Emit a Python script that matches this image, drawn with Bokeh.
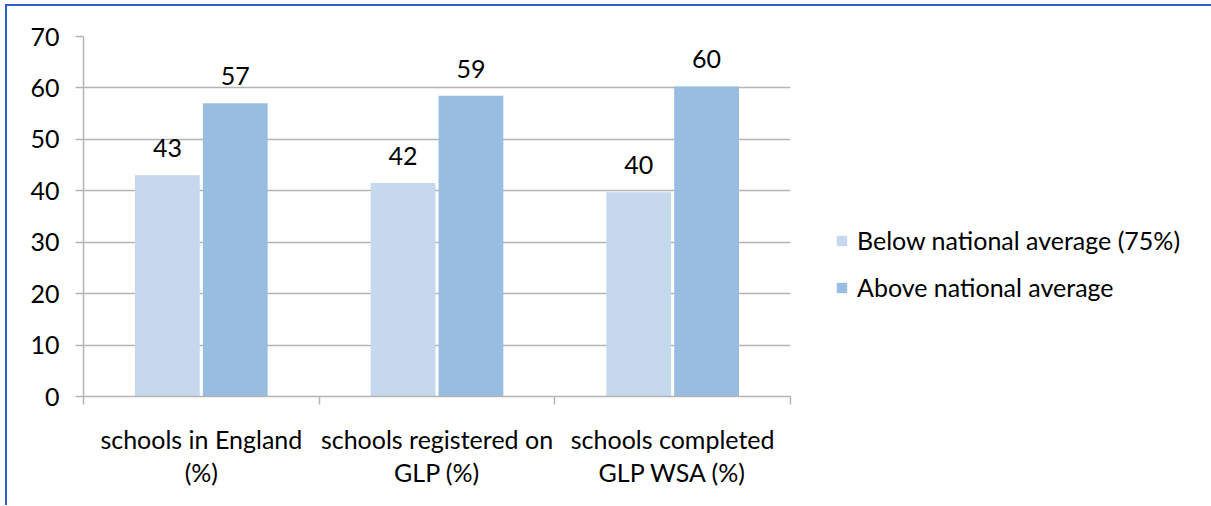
import math
from bokeh.plotting import figure
from bokeh.models import (FixedTicker, LinearAxis, Legend, LegendItem, ColumnDataSource, Range1d,
                          Grid, InlineStyleSheet)
from bokeh.core.properties import value
from bokeh.embed import file_html
from bokeh.resources import INLINE

categories = ["schools in England\n(%)", "schools registered on\nGLP (%)", "schools completed\nGLP WSA (%)"]
below = [43, 41.5, 39.7]
above = [57, 58.5, 60.3]
series_names = ["Below national average (75%)", "Above national average"]
colors = ["#c5d8ee", "#98bde1"]
y_ticks = [0, 10, 20, 30, 40, 50, 60, 70]

FONT = "Lato"
FS = "25px"
GRAY = "#b4b4b4"
TXT = "#000000"

p = figure(frame_width=707, frame_height=360, output_backend="svg", toolbar_location=None,
           x_range=Range1d(0, 3), y_range=Range1d(0, 70),
           min_border_left=76, min_border_top=30, min_border_right=420, min_border_bottom=109,
           x_axis_type=None, y_axis_type=None)
p.outline_line_color = None
p.background_fill_color = "white"
p.border_fill_color = "white"
p.stylesheets = [InlineStyleSheet(css=":host { border-top: 2px solid #2a62c4; border-left: 2px solid #2a62c4; "
                                      "margin-top: 4px; margin-left: 5px; }")]

# y axis
yax = LinearAxis(ticker=FixedTicker(ticks=y_ticks))
yax.axis_line_color = GRAY
yax.axis_line_width = 1.5
yax.major_tick_line_color = GRAY
yax.major_tick_line_width = 1.5
yax.major_tick_in = 0
yax.major_tick_out = 8
yax.minor_tick_line_color = None
yax.major_label_text_font = FONT
yax.major_label_text_font_size = FS
yax.major_label_text_color = TXT
yax.major_label_standoff = 16
p.add_layout(yax, "left")

# x axis: labels at category centres, ticks at category boundaries (minor ticks)
xax = LinearAxis(ticker=FixedTicker(ticks=[0.5, 1.5, 2.5], minor_ticks=[0, 1, 2, 3]))
xax.axis_line_color = GRAY
xax.axis_line_width = 1.5
xax.major_tick_line_color = None
xax.minor_tick_line_color = GRAY
xax.minor_tick_line_width = 1.5
xax.minor_tick_in = 0
xax.minor_tick_out = 8
xax.major_tick_in = 0
xax.major_tick_out = 0
xax.major_label_overrides = {0.5: categories[0], 1.5: categories[1], 2.5: categories[2]}
xax.major_label_text_font = FONT
xax.major_label_text_font_size = FS
xax.major_label_text_color = TXT
xax.major_label_standoff = 19
xax.major_label_text_line_height = 1.1
p.add_layout(xax, "below")

p.add_layout(Grid(dimension=1, ticker=yax.ticker, grid_line_color=GRAY, grid_line_width=1.5))

xc = [i + 0.5 for i in range(len(categories))]
off = 0.144
bw = 0.275
src_b = ColumnDataSource(dict(x=[c - off for c in xc], top=below,
                              lab=[str(math.floor(v + 0.5)) for v in below]))
src_a = ColumnDataSource(dict(x=[c + off for c in xc], top=above,
                              lab=[str(math.floor(v + 0.5)) for v in above]))
rb = p.vbar(x="x", top="top", width=bw, bottom=0, source=src_b, fill_color=colors[0], line_color=None)
ra = p.vbar(x="x", top="top", width=bw, bottom=0, source=src_a, fill_color=colors[1], line_color=None)
for s in (src_b, src_a):
    p.text(x="x", y="top", text="lab", source=s, text_align="center", text_baseline="alphabetic",
           y_offset=-27, text_font=value(FONT), text_font_size=FS, text_color=TXT)

legend = Legend(items=[LegendItem(label=series_names[0], renderers=[rb]),
                       LegendItem(label=series_names[1], renderers=[ra])],
                location=(45, 94), orientation="vertical")
legend.border_line_color = None
legend.background_fill_alpha = 0
legend.padding = 0
legend.margin = 0
legend.spacing = 17
legend.glyph_width = 13
legend.glyph_height = 13
legend.label_standoff = 9
legend.label_text_font = FONT
legend.label_text_font_size = FS
legend.label_text_color = TXT
legend.label_height = 30
p.add_layout(legend, "right")

open("out.html", "w").write(file_html(p, INLINE))
